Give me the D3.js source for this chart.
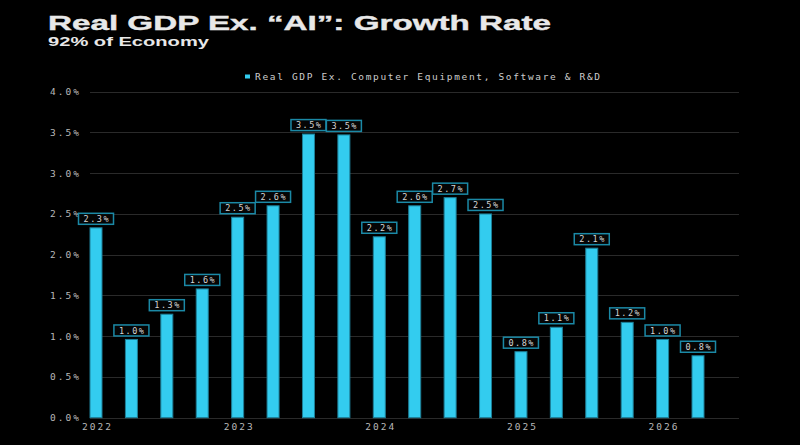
<!DOCTYPE html>
<html lang="en">
<head>
    <meta charset="UTF-8">
    <title>Real GDP Ex. AI</title>
    <style>
        body { margin: 0; background: #000; }
        svg { display: block; background: #000; }
        .mono { font-family: "DejaVu Sans Mono", "Liberation Mono", monospace; }
        .grid line { stroke: #2a2a2a; stroke-width: 1px; }
        .bar { fill: #33ccef; stroke: #1d7f98; stroke-width: 1px; }
        .box { fill: #050505; stroke: #1b89a6; stroke-width: 1.5px; }
    </style>
</head>
<body>
    <script src="https://d3js.org/d3.v7.min.js"></script>
    <script>
        var width = 800;
        var height = 445;

        // quarterly values, 2022 Q1 .. 2026 Q2
        var quarters = ["2022Q1", "2022Q2", "2022Q3", "2022Q4",
                        "2023Q1", "2023Q2", "2023Q3", "2023Q4",
                        "2024Q1", "2024Q2", "2024Q3", "2024Q4",
                        "2025Q1", "2025Q2", "2025Q3", "2025Q4",
                        "2026Q1", "2026Q2"];
        var growth = [2.33, 0.96, 1.27, 1.58,
                      2.46, 2.60, 3.48, 3.47,
                      2.22, 2.60, 2.70, 2.50,
                      0.81, 1.11, 2.08, 1.17,
                      0.96, 0.76];
        var yearTicks = ["2022Q1", "2023Q1", "2024Q1", "2025Q1", "2026Q1"];
        var yTicks = [0, 0.5, 1, 1.5, 2, 2.5, 3, 3.5, 4];
        var seriesName = "Real GDP Ex. Computer Equipment, Software & R&D";

        var svg = d3.select("body").append("svg")
            .attr("width", width)
            .attr("height", height);

        // title
        svg.append("text")
            .attr("x", 48).attr("y", 29.5)
            .attr("textLength", 503).attr("lengthAdjust", "spacingAndGlyphs")
            .style("font-family", "'Liberation Sans', Arial, sans-serif")
            .style("font-weight", "bold").style("font-size", "20.5px")
            .style("fill", "#e8e8e8")
            .style("stroke", "#e8e8e8").style("stroke-width", "0.4px")
            .text("Real GDP Ex. \u201CAI\u201D: Growth Rate");

        svg.append("text")
            .attr("x", 48).attr("y", 45.7)
            .attr("textLength", 161).attr("lengthAdjust", "spacingAndGlyphs")
            .style("font-family", "'Liberation Sans', Arial, sans-serif")
            .style("font-weight", "bold").style("font-size", "13px")
            .style("fill", "#e8e8e8")
            .text("92% of Economy");

        // legend
        svg.append("rect")
            .attr("x", 245).attr("y", 74.5).attr("width", 5).attr("height", 4)
            .style("fill", "#33ccef");
        svg.append("text")
            .attr("class", "mono")
            .attr("x", 255).attr("y", 79.8)
            .attr("textLength", 345).attr("lengthAdjust", "spacing")
            .style("font-size", "9.5px").style("fill", "#cccccc")
            .text(seriesName);

        var x = d3.scalePoint()
            .domain(quarters)
            .range([96, 698]);

        var y = d3.scaleLinear()
            .domain([0, 4])
            .range([417.7, 91.7]);

        var barW = 12;

        // gridlines
        svg.append("g").attr("class", "grid")
            .selectAll("line")
            .data(yTicks)
            .enter().append("line")
            .attr("x1", 90).attr("x2", 739)
            .attr("y1", function(d) { return Math.round(y(d)) + 0.5; })
            .attr("y2", function(d) { return Math.round(y(d)) + 0.5; });

        // y axis labels
        var yAxis = d3.axisLeft(y)
            .tickValues(yTicks)
            .tickSize(0)
            .tickPadding(0)
            .tickFormat(function(d) { return d.toFixed(1) + "%"; });

        var gy = svg.append("g")
            .attr("transform", "translate(79,0)")
            .call(yAxis);
        gy.select(".domain").remove();
        gy.selectAll("text")
            .attr("class", "mono")
            .attr("textLength", 29).attr("lengthAdjust", "spacing")
            .style("font-size", "9.5px").style("fill", "#b8b8b8");

        // x axis years
        var xAxis = d3.axisBottom(x)
            .tickValues(yearTicks)
            .tickSize(0)
            .tickPadding(0)
            .tickFormat(function(d) { return d.slice(0, 4); });

        var gx = svg.append("g")
            .attr("transform", "translate(0,423.5)")
            .call(xAxis);
        gx.select(".domain").remove();
        gx.selectAll("text")
            .attr("class", "mono")
            .attr("textLength", 29).attr("lengthAdjust", "spacing")
            .style("font-size", "9.5px").style("fill", "#b8b8b8");

        // bars
        svg.selectAll(".bar")
            .data(growth)
            .enter().append("rect")
            .attr("class", "bar")
            .attr("x", function(d, i) { return x(quarters[i]) - barW / 2; })
            .attr("y", function(d) { return y(d); })
            .attr("width", barW)
            .attr("height", function(d) { return y(0) - y(d); });

        // value labels
        var lab = svg.selectAll(".lab")
            .data(growth)
            .enter().append("g")
            .attr("class", "lab")
            .attr("transform", function(d, i) {
                return "translate(" + x(quarters[i]) + "," + (y(d) - 3.5) + ")";
            });

        lab.append("rect")
            .attr("class", "box")
            .attr("x", -17.5).attr("y", -11)
            .attr("width", 35).attr("height", 11);

        lab.append("text")
            .attr("class", "mono")
            .attr("text-anchor", "middle")
            .attr("y", -2.4)
            .attr("textLength", 25).attr("lengthAdjust", "spacing")
            .style("font-size", "8.5px").style("fill", "#d4d4d4")
            .text(function(d) { return d.toFixed(1) + "%"; });
    </script>
</body>
</html>
